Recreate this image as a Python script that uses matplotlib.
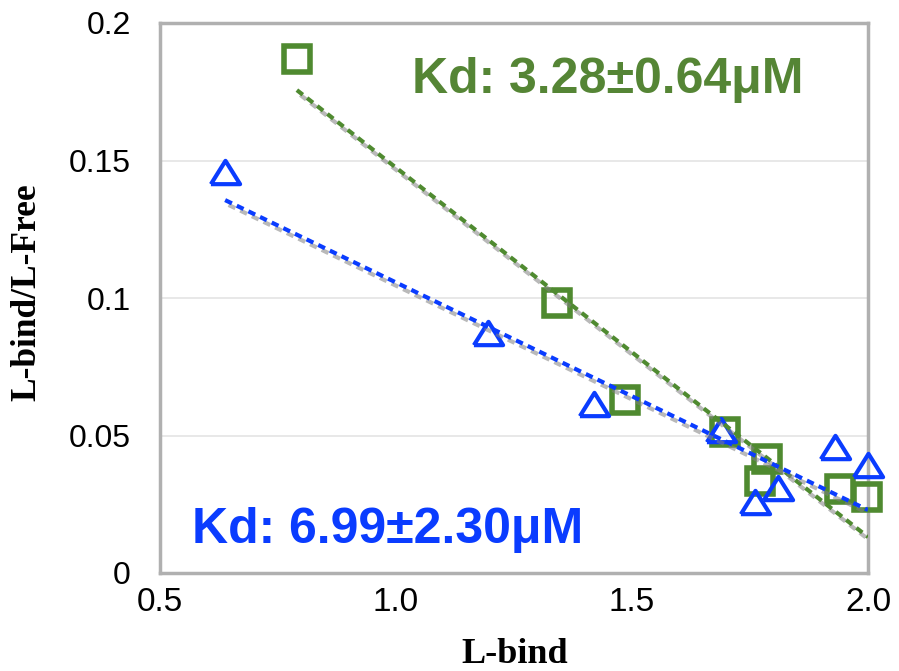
import matplotlib
matplotlib.use("Agg")
import matplotlib.pyplot as plt
import matplotlib.patheffects as pe

# Data
sq_x = [0.790, 1.341, 1.485, 1.697, 1.786, 1.771, 1.941, 1.998]
sq_y = [0.187, 0.0982, 0.0629, 0.0513, 0.0415, 0.0335, 0.0305, 0.0276]
tri_x = [0.638, 1.195, 1.419, 1.689, 1.930, 2.000, 1.761, 1.809]
tri_y = [0.146, 0.0873, 0.0615, 0.0520, 0.0458, 0.0393, 0.0258, 0.0309]

green_fit_x = [0.790, 2.000]
green_fit_y = [0.1756, 0.0131]
blue_fit_x = [0.638, 2.000]
blue_fit_y = [0.1356, 0.0229]

x_ticks = [0.5, 1.0, 1.5, 2.0]
x_tick_labels = ["0.5", "1.0", "1.5", "2.0"]
y_ticks = [0, 0.05, 0.1, 0.15, 0.2]
y_tick_labels = ["0", "0.05", "0.1", "0.15", "0.2"]

green_label = "Kd: 3.28±0.64μM"
blue_label = "Kd: 6.99±2.30μM"

GREEN = "#4f8a30"
GREEN_TXT = "#558535"
BLUE = "#0a3cff"

fig = plt.figure(figsize=(8.99, 6.71), dpi=100)
ax = fig.add_axes([160/899, 1-573/671, (868-160)/899, (573-23)/671])

ax.set_xlim(0.5, 2.0)
ax.set_ylim(0, 0.2)

for s in ax.spines.values():
    s.set_color("#b0b0b0")
    s.set_linewidth(2.5)

ax.yaxis.grid(True, color="#e4e4e4", linewidth=1.2)
ax.set_axisbelow(True)
ax.tick_params(length=0)

ax.set_xticks(x_ticks)
ax.set_xticklabels(x_tick_labels, fontsize=24, family="Liberation Sans")
ax.tick_params(axis="x", pad=10)
ax.set_yticks(y_ticks)
ax.set_yticklabels(y_tick_labels, fontsize=23, family="Liberation Sans")
ax.tick_params(axis="y", pad=21)

fig.text(515/899, 1-663/671, "L-bind", fontsize=26, family="Liberation Serif",
         fontweight="bold", ha="center", va="baseline")
fig.text(27/899, 1-292/671, "L-bind/L-Free", fontsize=25.5, family="Liberation Serif",
         fontweight="bold", ha="center", va="center", rotation=90, rotation_mode="anchor")

# markers
tri_marker = [(-1, -0.8), (1, -0.8), (0, 0.8), (-1, -0.8)]
ax.plot(sq_x, sq_y, linestyle="none", marker="s", ms=19, mfc="none", mec=GREEN, mew=4, zorder=3, clip_on=False)
ax.plot(tri_x, tri_y, linestyle="none", marker=tri_marker, ms=21, mfc="none", mec=BLUE, mew=3,
        zorder=3, clip_on=False)

shadow = [pe.SimpleLineShadow(offset=(2.5, -3.5), shadow_color="#808080", alpha=0.55), pe.Normal()]
l1, = ax.plot(green_fit_x, green_fit_y, color=GREEN, lw=3, zorder=4)
l1.set_dashes((1.8, 1.3))
l1.set_path_effects(shadow)
l2, = ax.plot(blue_fit_x, blue_fit_y, color=BLUE, lw=3, zorder=4)
l2.set_dashes((1.8, 1.3))
l2.set_path_effects(shadow)

ax.text(1.034, 0.1745, green_label, color=GREEN_TXT, fontsize=36, fontweight="bold",
        family="Liberation Sans", va="baseline", ha="left", zorder=5)
ax.text(0.568, 0.0109, blue_label, color=BLUE, fontsize=36, fontweight="bold",
        family="Liberation Sans", va="baseline", ha="left", zorder=5)

fig.savefig("out.png", dpi=100)
